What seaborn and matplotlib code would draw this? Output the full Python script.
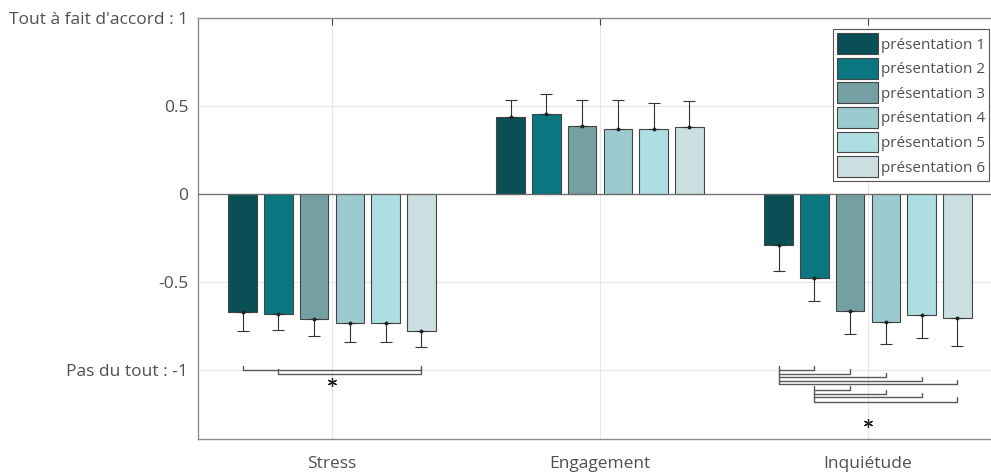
"""Réponses moyennes par présentation (stress, engagement, inquiétude)."""

import matplotlib
matplotlib.use("Agg")
import matplotlib.pyplot as plt
import numpy as np
import pandas as pd
import seaborn as sns

sns.set_theme(style="white")
plt.rcParams["font.family"] = ["Open Sans", "DejaVu Sans"]

# --- data ------------------------------------------------------------------
categories = ["Stress", "Engagement", "Inquiétude"]
presentations = [f"présentation {i}" for i in range(1, 7)]

stress = [-0.673, -0.684, -0.710, -0.735, -0.735, -0.780]
stress_err = [0.107, 0.087, 0.095, 0.104, 0.104, 0.087]
engagement = [0.436, 0.455, 0.388, 0.367, 0.367, 0.379]
engagement_err = [0.098, 0.113, 0.146, 0.167, 0.152, 0.151]
inquietude = [-0.292, -0.475, -0.663, -0.729, -0.688, -0.705]
inquietude_err = [0.144, 0.131, 0.131, 0.125, 0.128, 0.157]

# significant pairs (presentation i, presentation j, bracket level)
stress_pairs = [(0, 5, -1.00), (1, 5, -1.02)]
inquietude_pairs = [
    (0, 1, -1.00), (0, 2, -1.02), (0, 3, -1.04), (0, 4, -1.065), (0, 5, -1.08),
    (1, 2, -1.115), (1, 3, -1.135), (1, 4, -1.155), (1, 5, -1.18),
]
star_levels = {"Stress": -1.07, "Inquiétude": -1.30}

ytick_values = [-1, -0.5, 0, 0.5, 1]
ytick_labels = ["Pas du tout : -1", "-0.5", "0", "0.5", "Tout à fait d'accord : 1"]

palette = ["#0a4f55", "#0a7680", "#74a0a4", "#9ccbcf", "#aedee2", "#cbdfe1"]
TEXT = "#505050"

# --- long table for seaborn --------------------------------------------------
means = [stress, engagement, inquietude]
errs = [stress_err, engagement_err, inquietude_err]
rows = []
for cat, m, e in zip(categories, means, errs):
    for p, v, s in zip(presentations, m, e):
        rows.append({"categorie": cat, "presentation": p, "valeur": v, "err": s})
df = pd.DataFrame(rows)

W, H = 991, 473
fig = plt.figure(figsize=(W / 100, H / 100), dpi=100)
ax = fig.add_axes([198 / W, (H - 439) / H, 804 / W, 421 / H])

sns.barplot(
    data=df, x="categorie", y="valeur", hue="presentation",
    order=categories, hue_order=presentations, palette=palette,
    saturation=1, errorbar=None, width=0.8, gap=0.2,
    edgecolor="#454545", linewidth=0.8, ax=ax, zorder=3,
)

# one-sided error bars, pointing away from zero
bar_conts = list(ax.containers)
centers = np.zeros((len(categories), len(presentations)))
for h, cont in enumerate(bar_conts):
    for c, bar in enumerate(cont.patches):
        centers[c, h] = bar.get_x() + bar.get_width() / 2

for c in range(len(categories)):
    for h in range(len(presentations)):
        x = centers[c, h]
        v = means[c][h]
        e = errs[c][h]
        lo, hi = (e, 0) if v < 0 else (0, e)
        ax.errorbar(x, v, yerr=[[lo], [hi]], fmt="none", ecolor="#333333",
                    elinewidth=0.8, capsize=4, capthick=0.8, zorder=4)
        ax.plot(x, v, marker="o", ms=1.8, color="#222222", zorder=5)

# significance brackets
tick_h = 0.024
for cat, pairs in (("Stress", stress_pairs), ("Inquiétude", inquietude_pairs)):
    c = categories.index(cat)
    for i, j, yb in pairs:
        xi, xj = centers[c, i], centers[c, j]
        ax.plot([xi, xi, xj, xj], [yb + tick_h, yb, yb, yb + tick_h],
                color="#5a5a5a", lw=1.0, zorder=4)
    ax.plot(c, star_levels[cat], marker=(6, 2, 0), ms=6.5, mew=0.9,
            color="#222222", zorder=5)

ax.axhline(0, color="#6a6a6a", lw=0.9, zorder=3)

ax.set_xlim(-0.5, 2.5)
ax.set_ylim(-1.392, 1.0)
ax.set_yticks(ytick_values)
ax.set_yticklabels(ytick_labels)
ax.set_xlabel("")
ax.set_ylabel("")

ax.grid(True, color="#e6e6e6", lw=0.8, zorder=0)
ax.set_axisbelow(True)
for side in ("left", "bottom", "top", "right"):
    ax.spines[side].set_color("#8c8c8c")
    ax.spines[side].set_linewidth(1.0)
ax.tick_params(axis="both", direction="in", length=5, width=0.8,
               color="#444444", labelcolor=TEXT, labelsize=12.5)
ax.tick_params(axis="x", top=True, pad=12)
ax.tick_params(axis="y", right=True, pad=7)

leg = ax.legend(
    loc="upper right", bbox_to_anchor=(989 / W, 1 - 29 / H),
    bbox_transform=fig.transFigure, borderaxespad=0, fontsize=11,
    frameon=True, fancybox=False, edgecolor="#555555", framealpha=1,
    handlelength=2.65, handleheight=1.7, handletextpad=0.2,
    labelspacing=0.26, borderpad=0.28, title=None,
)
leg.get_frame().set_linewidth(0.8)
for t in leg.get_texts():
    t.set_color(TEXT)

fig.savefig("out.png", dpi=100)
